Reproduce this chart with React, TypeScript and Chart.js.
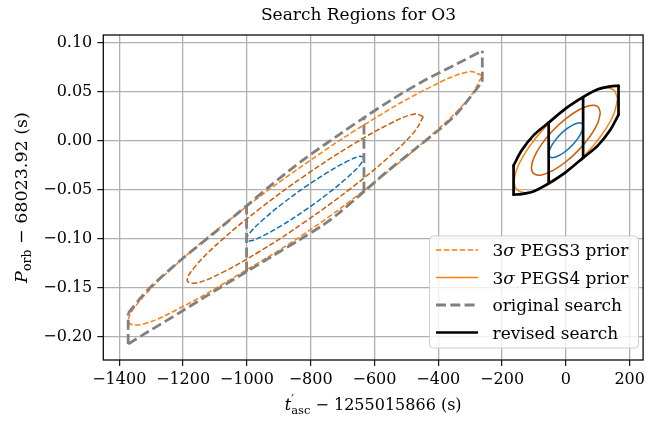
import React, { useEffect, useRef } from "react";
import { Chart, registerables } from "chart.js";

Chart.register(...registerables);

// ---------- data ----------
const xTicks = [-1400, -1200, -1000, -800, -600, -400, -200, 0, 200];
const yTicks = [-0.2, -0.15, -0.1, -0.05, 0.0, 0.05, 0.1];
const xRange = [-1450, 242];
const yRange = [-0.2238, 0.1079];

const titleText = "Search Regions for O3";
const seriesLabels = ["3σ PEGS3 prior", "3σ PEGS4 prior", "original search", "revised search"];

// PEGS3 prior contours (dashed): 1σ, 2σ, 3σ
const pegs3Sigma1 = [
  [-632, -0.0172], [-646, -0.0159], [-686, -0.0211], [-746, -0.0321], [-817, -0.0472],
  [-888, -0.0641], [-948, -0.0802], [-988, -0.0931], [-1002, -0.1008], [-988, -0.1022],
  [-948, -0.0969], [-888, -0.0859], [-817, -0.0708], [-746, -0.0539], [-686, -0.0378],
  [-646, -0.0249], [-632, -0.0172],
];
const pegs3Sigma2 = [
  [-447, 0.0246], [-475, 0.0273], [-555, 0.0168], [-675, -0.0052], [-817, -0.0354],
  [-959, -0.0692], [-1079, -0.1014], [-1159, -0.1272], [-1187, -0.1426], [-1159, -0.1453],
  [-1079, -0.1348], [-959, -0.1128], [-817, -0.0826], [-675, -0.0488], [-555, -0.0166],
  [-475, 0.0092], [-447, 0.0246],
];
const pegs3Sigma3 = [
  [-262, 0.0664], [-304, 0.0705], [-425, 0.0547], [-605, 0.0217], [-817, -0.0236],
  [-1029, -0.0743], [-1209, -0.1227], [-1330, -0.1613], [-1372, -0.1844], [-1330, -0.1875],
  [-1209, -0.1707], [-1029, -0.1372], [-817, -0.0944], [-605, -0.0437], [-425, 0.0047],
  [-304, 0.0433], [-262, 0.0664],
];

// PEGS4 prior contours (solid): 1σ, 2σ, 3σ
const pegs4Sigma1 = [
  [54, 0.0145], [49.9, 0.0177], [38.2, 0.0182], [20.7, 0.016], [0, 0.0115],
  [-20.7, 0.0053], [-38.2, -0.0017], [-49.9, -0.0083], [-54, -0.0135], [-49.9, -0.0167],
  [-38.2, -0.0172], [-20.7, -0.015], [0, -0.0105], [20.7, -0.0043], [38.2, 0.0027],
  [49.9, 0.0093], [54, 0.0145],
];
const pegs4Sigma2 = [
  [108, 0.0286], [99.8, 0.0349], [76.4, 0.0359], [41.4, 0.0316], [0, 0.0225],
  [-41.4, 0.0101], [-76.4, -0.0038], [-99.8, -0.017], [-108, -0.0276], [-99.8, -0.0339],
  [-76.4, -0.0349], [-41.4, -0.0306], [0, -0.0215], [41.4, -0.0091], [76.4, 0.0048],
  [99.8, 0.018], [108, 0.0286],
];
const pegs4Sigma3 = [
  [162, 0.0426], [149.7, 0.052], [114.6, 0.0536], [62.1, 0.0471], [0, 0.0335],
  [-62.1, 0.0149], [-114.6, -0.006], [-149.7, -0.0258], [-162, -0.0416], [-149.7, -0.051],
  [-114.6, -0.0526], [-62.1, -0.0461], [0, -0.0325], [62.1, -0.0139], [114.6, 0.007],
  [149.7, 0.0268], [162, 0.0426],
];

// original search region (grey dashed)
const originalUpper = [
  [-1372, -0.176], [-1310, -0.152], [-1206, -0.1215], [-1102, -0.094], [-1001, -0.0665],
  [-921, -0.0445], [-817, -0.018], [-714, 0.0055], [-633, 0.0235], [-548, 0.0415],
  [-444, 0.0615], [-341, 0.0785], [-262, 0.0918],
];
const originalLower = [
  [-1372, -0.2075], [-1310, -0.195], [-1206, -0.1745], [-1102, -0.1535], [-1001, -0.1337],
  [-921, -0.118], [-837, -0.1015], [-766, -0.087], [-714, -0.0745], [-633, -0.052],
  [-559, -0.031], [-475, -0.009], [-393, 0.0125], [-341, 0.028], [-262, 0.0602],
];
const originalCuts = [
  [[-1372, -0.2075], [-1372, -0.176]],
  [[-1001, -0.1337], [-1001, -0.0665]],
  [[-633, -0.052], [-633, 0.0235]],
  [[-262, 0.0602], [-262, 0.0918]],
];

// revised search region (black solid)
const revisedUpper = [
  [-164, -0.0255], [-140, -0.0105], [-100, 0.006], [-54, 0.0185], [0, 0.033],
  [54, 0.0445], [100, 0.0525], [140, 0.0555], [165, 0.056],
];
const revisedLower = [
  [-164, -0.055], [-140, -0.0545], [-100, -0.0515], [-54, -0.0435], [0, -0.032],
  [54, -0.0175], [100, -0.005], [140, 0.0115], [165, 0.0265],
];
const revisedCuts = [
  [[-164, -0.055], [-164, -0.0255]],
  [[-54, -0.0435], [-54, 0.0185]],
  [[54, -0.0175], [54, 0.0445]],
  [[165, 0.0265], [165, 0.056]],
];

// ---------- styles ----------
const BLUE = "#0b72b0";
const DARK_ORANGE = "#cf5b06";
const ORANGE = "#ff7f0e";
const GREY = "#808080";
const BLACK = "#000000";
const SERIF = '"DejaVu Serif", serif';

const pts = (arr: number[][]) => arr.map(([x, y]) => ({ x, y }));

function line(data: number[][], o: any) {
  return {
    data: pts(data),
    showLine: true,
    pointRadius: 0,
    pointHoverRadius: 0,
    fill: false,
    borderColor: o.color,
    backgroundColor: o.color,
    borderWidth: o.width,
    borderDash: o.dash || [],
    tension: o.tension ?? 0,
    borderCapStyle: o.cap || "butt",
    borderJoinStyle: "round",
    order: o.order,
    legendText: o.legend,
  };
}

type Run = { t: string; f: string; dy?: number; stack?: boolean };

function runsWidth(ctx: CanvasRenderingContext2D, runs: Run[]) {
  let w = 0;
  let stackW = 0;
  for (const r of runs) {
    ctx.font = r.f;
    const m = ctx.measureText(r.t).width;
    if (r.stack) {
      stackW = Math.max(stackW, m);
    } else {
      w += Math.max(m, stackW);
      stackW = 0;
    }
  }
  return w + stackW;
}

function drawRuns(ctx: CanvasRenderingContext2D, runs: Run[], x: number, y: number) {
  let cx = x;
  let stackW = 0;
  for (const r of runs) {
    ctx.font = r.f;
    ctx.fillText(r.t, cx, y + (r.dy || 0));
    const m = ctx.measureText(r.t).width;
    if (r.stack) {
      stackW = Math.max(stackW, m);
    } else {
      cx += Math.max(m, stackW);
      stackW = 0;
    }
  }
}

function sigmaRuns(text: string, size: number): Run[] {
  const out: Run[] = [];
  const parts = text.split("σ");
  parts.forEach((p, i) => {
    if (p) out.push({ t: p, f: `${size}px ${SERIF}` });
    if (i < parts.length - 1) out.push({ t: "σ", f: `italic ${size}px ${SERIF}` });
  });
  return out;
}

const decorPlugin = {
  id: "decor",
  afterDatasetsDraw(chart: any) {
    const { ctx, chartArea: a } = chart;
    ctx.save();
    ctx.strokeStyle = "#000";
    ctx.lineWidth = 1.25;
    ctx.strokeRect(a.left, a.top, a.right - a.left, a.bottom - a.top);
    ctx.restore();
  },
  afterDraw(chart: any) {
    const { ctx, chartArea: a } = chart;
    ctx.save();
    ctx.fillStyle = "#000";
    ctx.textAlign = "left";
    ctx.textBaseline = "alphabetic";

    // title
    const tRuns: Run[] = [{ t: titleText, f: `17px ${SERIF}` }];
    drawRuns(ctx, tRuns, 358.5 - runsWidth(ctx, tRuns) / 2, 20);

    // x label
    const xRuns: Run[] = [
      { t: "t", f: `italic 16px ${SERIF}` },
      { t: "′", f: `12px ${SERIF}`, dy: -6, stack: true },
      { t: "asc", f: `11.5px ${SERIF}`, dy: 3.5 },
      { t: " − 1255015866 (s)", f: `16px ${SERIF}` },
    ];
    const xc = (a.left + a.right) / 2;
    drawRuns(ctx, xRuns, xc - runsWidth(ctx, xRuns) / 2, 410);

    // y label
    const yRuns: Run[] = [
      { t: "P", f: `italic 17.5px ${SERIF}` },
      { t: "orb", f: `12.5px ${SERIF}`, dy: 4 },
      { t: " − 68023.92 (s)", f: `17.5px ${SERIF}` },
    ];
    const yc = (a.top + a.bottom) / 2;
    ctx.translate(27, yc);
    ctx.rotate(-Math.PI / 2);
    drawRuns(ctx, yRuns, -runsWidth(ctx, yRuns) / 2, 0);
    ctx.setTransform(1, 0, 0, 1, 0, 0);

    // legend
    const items = chart.data.datasets.filter((d: any) => d.legendText);
    items.sort((p: any, q: any) => seriesLabels.indexOf(p.legendText) - seriesLabels.indexOf(q.legendText));
    const bx = 429.5, by = 236, bw = 209, bh = 112;
    ctx.beginPath();
    if ((ctx as any).roundRect) (ctx as any).roundRect(bx, by, bw, bh, 4);
    else ctx.rect(bx, by, bw, bh);
    ctx.fillStyle = "rgba(255,255,255,0.8)";
    ctx.fill();
    ctx.strokeStyle = "#cccccc";
    ctx.lineWidth = 1;
    ctx.stroke();
    items.forEach((d: any, i: number) => {
      const ry = 250 + i * 27.5;
      ctx.beginPath();
      ctx.strokeStyle = d.borderColor;
      ctx.lineWidth = d.borderWidth;
      ctx.setLineDash(d.borderDash || []);
      ctx.lineCap = "butt";
      ctx.moveTo(436, ry);
      ctx.lineTo(478, ry);
      ctx.stroke();
      ctx.setLineDash([]);
      ctx.fillStyle = "#000";
      drawRuns(ctx, sigmaRuns(d.legendText, 17), 492.5, ry + 6);
    });
    ctx.restore();
  },
};

const fmtNum = (n: number, dec: number) => {
  const v = Math.abs(n) < 1e-9 ? 0 : n;
  const s = Math.abs(v).toFixed(dec);
  return v < 0 ? "−" + s : s;
};

export default function App() {
  const ref = useRef<HTMLCanvasElement | null>(null);

  useEffect(() => {
    document.body.style.margin = "0";
    if (!ref.current) return;

    const dashed = [5.5, 2.4];
    const greyDash = [10, 4.3];
    const datasets: any[] = [];

    // revised search (top)
    datasets.push(line(revisedUpper, { color: BLACK, width: 2.7, tension: 0.3, cap: "round", order: 0, legend: seriesLabels[3] }));
    datasets.push(line(revisedLower, { color: BLACK, width: 2.7, tension: 0.3, cap: "round", order: 0 }));
    revisedCuts.forEach((c) => datasets.push(line(c, { color: BLACK, width: 2.7, cap: "round", order: 0 })));

    // original search
    datasets.push(line(originalUpper, { color: GREY, width: 2.8, dash: greyDash, tension: 0.3, order: 1, legend: seriesLabels[2] }));
    datasets.push(line(originalLower, { color: GREY, width: 2.8, dash: greyDash, tension: 0.3, order: 1 }));
    originalCuts.forEach((c) => datasets.push(line(c, { color: GREY, width: 2.8, dash: greyDash, order: 1 })));

    // PEGS4 prior (solid)
    datasets.push(line(pegs4Sigma3, { color: ORANGE, width: 1.5, tension: 0.4, order: 2, legend: seriesLabels[1] }));
    datasets.push(line(pegs4Sigma2, { color: DARK_ORANGE, width: 1.5, tension: 0.4, order: 2 }));
    datasets.push(line(pegs4Sigma1, { color: BLUE, width: 1.5, tension: 0.4, order: 2 }));

    // PEGS3 prior (dashed)
    datasets.push(line(pegs3Sigma3, { color: ORANGE, width: 1.5, dash: dashed, tension: 0.4, order: 3, legend: seriesLabels[0] }));
    datasets.push(line(pegs3Sigma2, { color: DARK_ORANGE, width: 1.5, dash: dashed, tension: 0.4, order: 3 }));
    datasets.push(line(pegs3Sigma1, { color: BLUE, width: 1.5, dash: dashed, tension: 0.4, order: 3 }));

    const tickFont = { family: SERIF, size: 16 };
    const grid = {
      color: "#b0b0b0",
      lineWidth: 1.3,
      drawTicks: true,
      tickLength: 6,
      tickColor: "#000",
      tickWidth: 1.1,
    };

    const chart = new Chart(ref.current, {
      type: "scatter",
      data: { datasets },
      plugins: [decorPlugin],
      options: {
        animation: false,
        responsive: false,
        devicePixelRatio: 1,
        events: [],
        layout: { padding: { top: 35, right: 1.4, left: 0, bottom: 0 } },
        plugins: {
          legend: { display: false },
          tooltip: { enabled: false },
          title: { display: false },
        },
        scales: {
          x: {
            type: "linear",
            min: xRange[0],
            max: xRange[1],
            grid,
            border: { display: false },
            ticks: {
              font: tickFont,
              color: "#000",
              padding: 4,
              maxRotation: 0,
              autoSkip: false,
              includeBounds: false,
              callback: (v: any) => fmtNum(Number(v), 0),
            },
            afterBuildTicks: (s: any) => {
              s.ticks = xTicks.map((v) => ({ value: v }));
            },
            afterFit: (s: any) => {
              s.height = 64;
            },
          },
          y: {
            type: "linear",
            min: yRange[0],
            max: yRange[1],
            grid,
            border: { display: false },
            ticks: {
              font: tickFont,
              color: "#000",
              padding: 5,
              autoSkip: false,
              includeBounds: false,
              callback: (v: any) => fmtNum(Number(v), 2),
            },
            afterBuildTicks: (s: any) => {
              s.ticks = yTicks.map((v) => ({ value: v }));
            },
            afterFit: (s: any) => {
              s.width = 103.3;
            },
          },
        },
      } as any,
    });

    return () => chart.destroy();
  }, []);

  return (
    <div style={{ width: 649, height: 424 }}>
      <canvas ref={ref} width={649} height={424} />
    </div>
  );
}
